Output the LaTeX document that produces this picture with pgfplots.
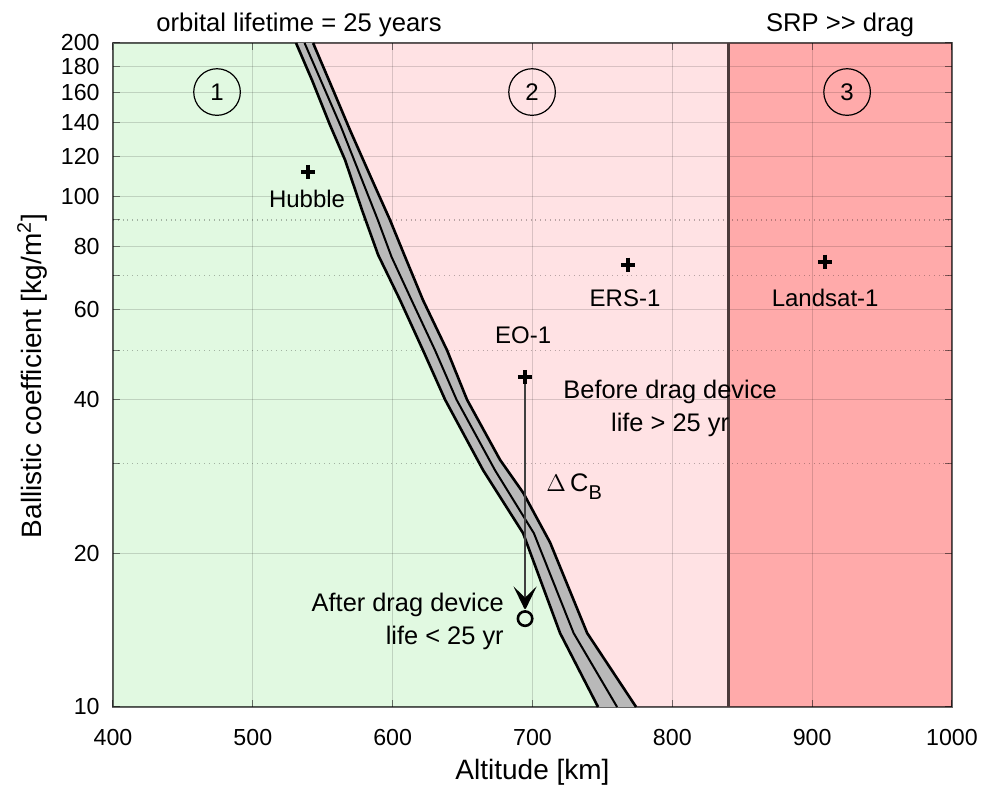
\documentclass[border=0pt]{standalone}
\usepackage{pgfplots}
\pgfplotsset{compat=1.18}
\usepackage{fontspec}
\setmainfont{Liberation Sans}
\definecolor{regA}{RGB}{225,249,225}
\definecolor{regB}{RGB}{255,226,228}
\definecolor{regC}{RGB}{255,170,170}
\definecolor{bandgray}{RGB}{185,185,185}
\definecolor{srp}{RGB}{75,58,58}
\begin{document}
\begin{tikzpicture}
\begin{axis}[
  set layers, clip=false,
  scale only axis, width=419.5pt, height=332pt,
  xmin=400, xmax=1000, ymin=10, ymax=200, ymode=log,
  xtick={400,500,...,1000},
  ytick={10,20,40,60,80,100,120,140,160,180,200},
  yticklabels={10,20,40,60,80,100,120,140,160,180,200},
  minor ytick={30,50,70,90},
  grid=both,
  major grid style={black, opacity=0.15, line width=0.5pt},
  minor grid style={black, opacity=0.28, dotted, line width=0.6pt},
  tick align=inside,
  major tick length=3.5pt, minor tick length=3.5pt,
  tick style={black, opacity=0.5, line width=0.5pt},
  axis line style={black, opacity=0.6, line width=0.8pt},
  /pgf/number format/assume math mode=true,
  /pgf/number format/1000 sep={},
  ticklabel style={font=\fontsize{11.6}{13}\selectfont},
  xticklabel style={anchor=north, inner sep=0pt, yshift=-11pt},
  yticklabel style={anchor=east, inner sep=0pt, xshift=-6.5pt},
  xlabel={Altitude [km]},
  ylabel={Ballistic coefficient [kg/m\textsuperscript{2}]},
  label style={font=\fontsize{14}{16}\selectfont},
  xlabel style={at={(axis description cs:0.5,-0.098)}, anchor=center},
  ylabel style={at={(axis description cs:-0.0965,0.4985)}, anchor=center},
]
% region 2 (pink) background
\addplot[on layer=axis background, draw=none, fill=regB] coordinates {(400,10) (840,10) (840,200) (400,200) (400,10)};
% region 1 (green)
\addplot[on layer=axis background, draw=none, fill=regA] coordinates {
(400,10) (400,200) (530.9,200) (542.3,169.2) (555.2,138.1) (566.0,117.9) (578.1,94.1) (589.6,76.9)
(605.3,62.7) (621.7,50.0) (637.5,40.0) (664.7,29.1) (693.3,21.9) (719.7,13.96) (746.9,10) (400,10)};
% region 3 (salmon)
\addplot[on layer=axis background, draw=none, fill=regC] coordinates {(840,10) (1000,10) (1000,200) (840,200) (840,10)};
% band fill
\addplot[draw=none, fill=bandgray] coordinates {
(530.9,200) (542.3,169.2) (555.2,138.1) (566.0,117.9) (578.1,94.1) (589.6,76.9)
(605.3,62.7) (621.7,50.0) (637.5,40.0) (664.7,29.1) (693.3,21.9) (719.7,13.96) (746.9,10)
(774.1,10) (739.1,13.96) (712.6,21.0) (693.3,26.3) (676.8,30.5) (653.2,40) (638.9,50)
(621.7,62.7) (608.9,76.2) (598.1,90) (585.3,107.8) (569.5,135.0) (557.4,161.8) (543.1,200) (530.9,200)};
% band edges
\addplot[black, line width=1.3pt] coordinates {
(530.9,200) (542.3,169.2) (555.2,138.1) (566.0,117.9) (578.1,94.1) (589.6,76.9)
(605.3,62.7) (621.7,50.0) (637.5,40.0) (664.7,29.1) (693.3,21.9) (719.7,13.96) (746.9,10)};
\addplot[black, line width=1.3pt] coordinates {
(543.1,200) (557.4,161.8) (569.5,135.0) (585.3,107.8) (598.1,90) (608.9,76.2) (621.7,62.7)
(638.9,50) (653.2,40) (676.8,30.5) (693.3,26.3) (712.6,21.0) (739.1,13.96) (774.1,10)};
\addplot[black, line width=1.0pt] coordinates {
(537.0,200) (563.1,136.9) (575.3,112.7) (589.4,90) (599.2,76.2) (613.5,62.7) (630.3,50)
(645.7,40) (673.2,29.1) (701.0,21.9) (729.4,13.96) (760.5,10)};
% SRP boundary
\addplot[srp, line width=1.5pt] coordinates {(840,10) (840,200)};
% satellites
\addplot[only marks, mark=+, mark size=3.6pt, line width=2pt, black] coordinates {(539.5,111.7) (768.4,73.5) (909.3,74.5) (694.7,44.3)};
% EO-1 arrow shaft and head
\addplot[black!75, line width=0.6pt] coordinates {(694.7,44.3) (694.7,16.4)};
\addplot[black, fill=black, line width=0.8pt, line join=miter] coordinates {(694.7,15.6) (688.3,16.95) (694.7,16.3) (701.1,16.95) (694.7,15.6)};
\addplot[only marks, mark=o, mark size=3.6pt, line width=1.3pt, black] coordinates {(694.7,14.9)};
% texts
\node[font=\fontsize{12.8}{15}\selectfont, anchor=base, yshift=5.5pt] at (axis cs:533,200) {orbital lifetime = 25 years};
\node[font=\fontsize{12.8}{15}\selectfont, anchor=base, yshift=5.5pt] at (axis cs:920,200) {SRP >{}> drag};
\node[font=\fontsize{12}{14}\selectfont] at (axis cs:538.8,98.9) {Hubble};
\node[font=\fontsize{12}{14}\selectfont] at (axis cs:766.2,63.3) {ERS-1};
\node[font=\fontsize{12}{14}\selectfont] at (axis cs:909.3,63.3) {Landsat-1};
\node[font=\fontsize{12}{14}\selectfont] at (axis cs:693.3,53.6) {EO-1};
\node[font=\fontsize{12.7}{16.5}\selectfont, align=center] at (axis cs:798.4,38.5) {Before drag device\\life > 25 yr};
\node[font=\fontsize{12.7}{16.5}\selectfont, align=right, anchor=east, inner sep=0pt] at (axis cs:679.7,14.7) {After drag device\\life < 25 yr};
\node[font=\fontsize{12.7}{15}\selectfont] at (axis cs:729.8,27.0) {$\Delta$\,C\raisebox{-4pt}{\fontsize{10}{12}\selectfont B}};
\node[circle, draw, line width=0.6pt, minimum size=23.3pt, inner sep=0pt, font=\fontsize{12}{14}\selectfont] at (axis cs:474.4,160.3) {1};
\node[circle, draw, line width=0.6pt, minimum size=23.3pt, inner sep=0pt, font=\fontsize{12}{14}\selectfont] at (axis cs:699.7,160.3) {2};
\node[circle, draw, line width=0.6pt, minimum size=23.3pt, inner sep=0pt, font=\fontsize{12}{14}\selectfont] at (axis cs:925,160.3) {3};
\end{axis}
\path (-56.5pt,-40pt) rectangle (434.5pt,353.5pt);
\end{tikzpicture}
\end{document}
